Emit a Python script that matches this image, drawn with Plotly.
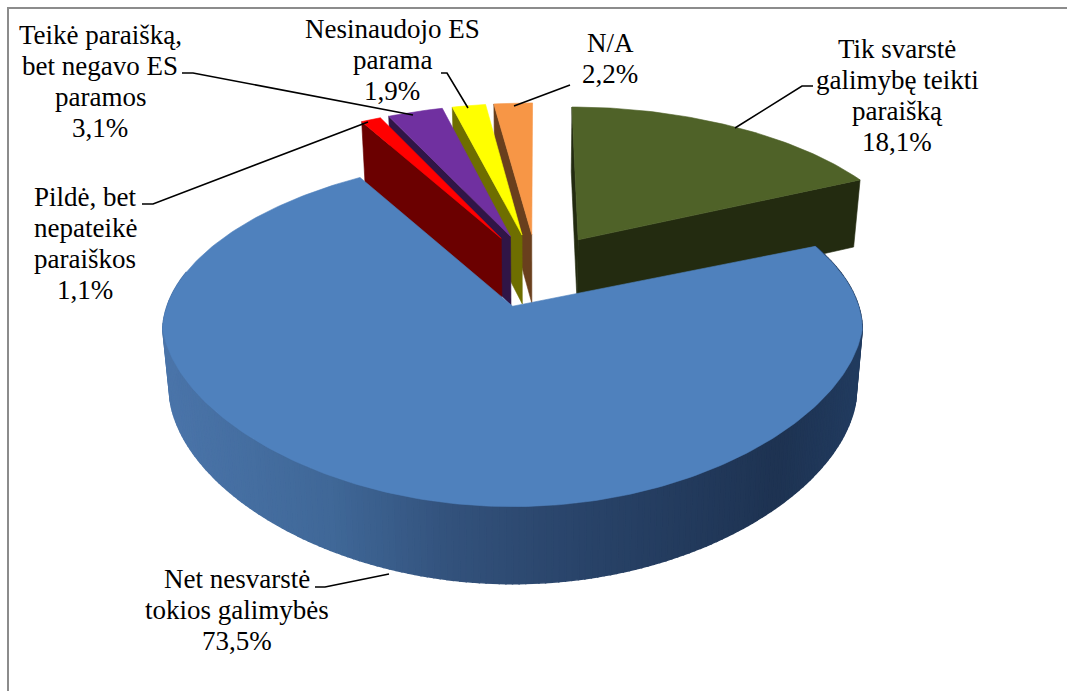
import math
import numpy as np
import plotly.graph_objects as go

# ---- data ----
labels = [["Tik svarstė", "galimybę teikti", "paraišką", "18,1%"],
          ["Net nesvarstė", "tokios galimybės", "73,5%"],
          ["Pildė, bet", "nepateikė", "paraiškos", "1,1%"],
          ["Teikė paraišką,", "bet negavo ES", "paramos", "3,1%"],
          ["Nesinaudojo ES", "parama", "1,9%"],
          ["N/A", "2,2%"]]
values = [18.1, 73.5, 1.1, 3.1, 1.9, 2.2]
top_colors = ["#4F6228", "#4F81BD", "#FF0000", "#7030A0", "#FFFF00", "#F79646"]
wall_colors = ["#232B10", "#1F3552", "#6B0000", "#301546", "#6E6E00", "#693F1D"]
label_x = [897, 237, 85, 100, 392, 610]
label_y = [95, 610, 243, 81, 60, 58]
leaders = [
    ([813, 802, 735], [86, 86, 128]),
    ([315, 325, 389], [587, 587, 574]),
    ([142, 153, 368], [204, 204, 122]),
    ([182, 193, 413], [73, 73, 115]),
    ([441, 447, 468], [73, 73, 108]),
    ([570, 514], [85, 106]),
]

# ---- projection of the exploded 3D pie ----
CX, CY = 537, 270
RY = 160
PERSP = 0.144
EXPLODE = 0.23
LINE_GAP = 31
BLUE_BULGE = 9


def proj(wx, wy, bottom=False):
    s = 1 / (1 + PERSP * wy)
    yy = max(wy, -0.3)
    fx = 340 - 39 * yy - 8 * yy * yy
    x = wx * fx
    y = -wy * RY * s
    if bottom:
        return CX + x * 0.98, CY + y + 70 * math.sqrt(s)
    return CX + x, CY + y


total = sum(values)
edges = np.cumsum([0] + values) / total * 2 * math.pi


def rim(i, th, bottom=False):
    mid = (edges[i] + edges[i + 1]) / 2
    x, y = proj(math.sin(th) + EXPLODE * math.sin(mid),
                math.cos(th) + EXPLODE * math.cos(mid), bottom)
    if i == 1:
        y += BLUE_BULGE * math.sin(th) ** 2
    return x, y


def apex(i, bottom=False):
    mid = (edges[i] + edges[i + 1]) / 2
    return proj(EXPLODE * math.sin(mid), EXPLODE * math.cos(mid), bottom)


fig = go.Figure()


def poly(pts, color, lw=0.6):
    xs = [p[0] for p in pts] + [pts[0][0]]
    ys = [p[1] for p in pts] + [pts[0][1]]
    fig.add_trace(go.Scatter(x=xs, y=ys, mode="lines", fill="toself", fillcolor=color,
                             line=dict(color=color, width=lw), hoverinfo="skip", showlegend=False))


def wall(i, th, color):
    poly([rim(i, th), apex(i), apex(i, True), rim(i, th, True)], color)


def top(i, color):
    ths = np.linspace(edges[i], edges[i + 1], max(6, int((edges[i + 1] - edges[i]) * 60)))
    poly([apex(i)] + [rim(i, t) for t in ths], color)


# small slices, right to left so that each hides the wall behind it
for i in [5, 4, 3, 2]:
    wall(i, edges[i], wall_colors[i])
    top(i, top_colors[i])

# green slice
wall(0, edges[0], wall_colors[0])
wall(0, edges[1], wall_colors[0])
top(0, top_colors[0])

# blue slice: outer side with a gradient, then its top
stops_x = [160, 330, 450, 570, 780, 863]
stops_c = [(75, 117, 170), (64, 104, 152), (51, 82, 124), (42, 69, 107), (30, 51, 82), (34, 60, 96)]


def shade(x):
    return "rgb(%d,%d,%d)" % tuple(int(np.interp(x, stops_x, [c[k] for c in stops_c])) for k in range(3))


ths = np.linspace(edges[1], math.radians(285), 200)
for a, b in zip(ths[:-1], ths[1:]):
    xm = rim(1, (a + b) / 2)[0]
    poly([rim(1, a), rim(1, b), rim(1, b, True), rim(1, a, True)], shade(xm), lw=1.5)
top(1, top_colors[1])

# leader lines
for lx, ly in leaders:
    fig.add_trace(go.Scatter(x=lx, y=ly, mode="lines", line=dict(color="black", width=1.6),
                             hoverinfo="skip", showlegend=False))

# frame
fig.add_trace(go.Scatter(x=[8, 8, 1067], y=[691, 8, 8], mode="lines",
                         line=dict(color="#8C8C8C", width=2), hoverinfo="skip", showlegend=False))

for lines, x, y in zip(labels, label_x, label_y):
    y0 = y - (len(lines) - 1) / 2 * LINE_GAP
    for j, t in enumerate(lines):
        fig.add_annotation(x=x, y=y0 + j * LINE_GAP, text=t, showarrow=False, xanchor="center",
                           yanchor="middle", align="center",
                           font=dict(family="Liberation Serif", size=27, color="black"))

fig.update_layout(width=1067, height=691, margin=dict(l=0, r=0, t=0, b=0),
                  paper_bgcolor="white", plot_bgcolor="white", showlegend=False,
                  xaxis=dict(range=[0, 1067], visible=False, fixedrange=True),
                  yaxis=dict(range=[691, 0], visible=False, fixedrange=True))
fig.write_html("out.html", config=dict(displayModeBar=False),
               post_script="document.body.style.margin='0';document.body.style.overflow='hidden';")
